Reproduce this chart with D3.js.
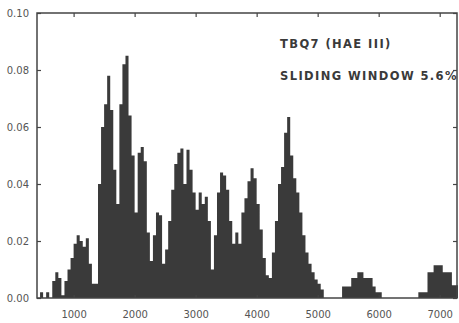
<!DOCTYPE html>
<html>
<head>
<meta charset="utf-8">
<script src="https://cdn.jsdelivr.net/npm/d3@7/dist/d3.min.js"></script>
<style>
  body { margin: 0; background: #fff; }
  svg { display: block; }
  .axis text { font-family: "DejaVu Sans", sans-serif; font-size: 10px; fill: #555; }
  .axis path { display: none; }
  .axis line { stroke: #444; stroke-width: 1.2; }
  .note { font-family: "DejaVu Sans", sans-serif; font-size: 11.5px; font-weight: bold; fill: #3a3a3a; letter-spacing: 1.4px; }
</style>
</head>
<body>
<div id="chart"></div>
<script>
// histogram bins, 50 bp wide, starting at 400 bp
const binStart = 400;
const binWidth = 50;
const frequency = [
  0, 0.002, 0, 0.002, 0, 0.006, 0.009, 0.007, 0.001, 0.006,
  0.010, 0.014, 0.019, 0.022, 0.020, 0.018, 0.021, 0.012, 0.005, 0.005,
  0.040, 0.060, 0.068, 0.078, 0.066, 0.045, 0.033, 0.068, 0.082, 0.085,
  0.064, 0.050, 0.030, 0.051, 0.053, 0.048, 0.023, 0.013, 0.022, 0.030,
  0.029, 0.012, 0.017, 0.027, 0.038, 0.047, 0.051, 0.0525, 0.040, 0.052,
  0.045, 0.037, 0.031, 0.037, 0.033, 0.0355, 0.027, 0.010, 0.022, 0.037,
  0.044, 0.043, 0.038, 0.027, 0.019, 0.023, 0.019, 0.030, 0.035, 0.041,
  0.0455, 0.042, 0.033, 0.024, 0.014, 0.008, 0.007, 0.016, 0.027, 0.040,
  0.046, 0.058, 0.0635, 0.050, 0.042, 0.037, 0.030, 0.022, 0.016, 0.012,
  0.009, 0.0065, 0.005, 0.003, 0, 0, 0, 0, 0, 0,
  0.004, 0.004, 0.004, 0.007, 0.007, 0.009, 0.009, 0.007, 0.007, 0.007,
  0.004, 0.002, 0.002, 0, 0, 0, 0, 0, 0, 0,
  0, 0, 0, 0, 0, 0.002, 0.002, 0.002, 0.009, 0.009,
  0.0115, 0.0115, 0.0115, 0.009, 0.009, 0.009, 0.0045, 0.0045
];
const xTicks = [1000, 2000, 3000, 4000, 5000, 6000, 7000];
const yTicks = [0, 0.02, 0.04, 0.06, 0.08, 0.10];
const notes = ['TBQ7 (HAE III)', 'SLIDING WINDOW 5.6%'];

const width = 459, height = 323;
const margin = { top: 13, right: 1, bottom: 25, left: 37 };

const svg = d3.select('#chart').append('svg')
  .attr('width', width)
  .attr('height', height);

const x = d3.scaleLinear()
  .domain([400, 7300])
  .range([margin.left, width - margin.right]);

const y = d3.scaleLinear()
  .domain([0, 0.10])
  .range([height - margin.bottom, margin.top]);

// step outline, one point per bin edge
const bins = frequency.map((v, i) => ({ x0: binStart + i * binWidth, v }));
bins.push({ x0: binStart + frequency.length * binWidth, v: 0 });

const area = d3.area()
  .curve(d3.curveStepAfter)
  .x(d => x(d.x0))
  .y0(y(0))
  .y1(d => y(d.v));

svg.append('path')
  .datum(bins)
  .attr('fill', '#3a3a3a')
  .attr('d', area);

// axes, ticks point inwards
svg.append('g')
  .attr('class', 'axis')
  .attr('transform', `translate(${margin.left},0)`)
  .call(d3.axisLeft(y).tickValues(yTicks).tickSize(-4).tickPadding(8).tickFormat(d3.format('.2f')));

svg.append('g')
  .attr('class', 'axis')
  .attr('transform', `translate(${width - margin.right - 1},0)`)
  .call(d3.axisRight(y).tickValues(yTicks).tickSize(-4).tickFormat(''));

svg.append('g')
  .attr('class', 'axis')
  .attr('transform', `translate(0,${y(0)})`)
  .call(d3.axisBottom(x).tickValues(xTicks).tickSize(-3).tickPadding(13).tickFormat(d3.format('d')));

svg.append('g')
  .attr('class', 'axis')
  .attr('transform', `translate(0,${margin.top})`)
  .call(d3.axisTop(x).tickValues(xTicks).tickSize(-4).tickFormat(''));

// frame
svg.append('rect')
  .attr('x', margin.left)
  .attr('y', margin.top)
  .attr('width', width - margin.right - margin.left - 1)
  .attr('height', y(0) - margin.top)
  .attr('fill', 'none')
  .attr('stroke', '#444')
  .attr('stroke-width', 1.5);

svg.selectAll('.note')
  .data(notes)
  .enter().append('text')
  .attr('class', 'note')
  .attr('x', 280)
  .attr('y', (d, i) => 48 + i * 32)
  .text(d => d);
</script>
</body>
</html>
